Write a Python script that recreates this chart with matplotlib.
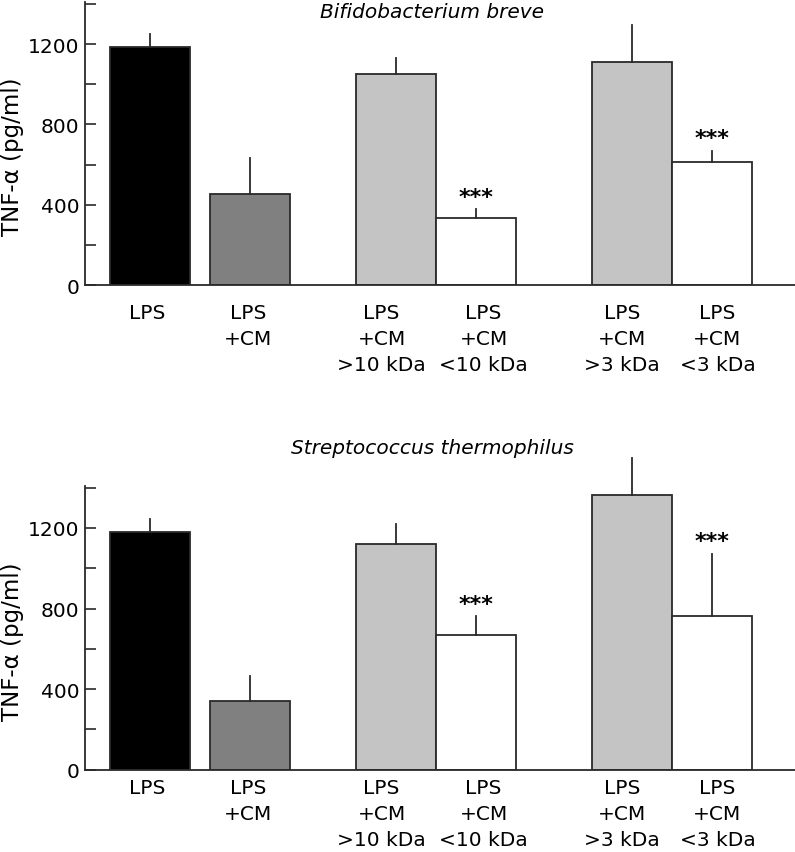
import matplotlib
matplotlib.use("Agg")
import matplotlib.pyplot as plt
from matplotlib.ticker import MultipleLocator

# data (pg/ml)
categories = ["LPS", "LPS\n+CM", "LPS\n+CM\n>10 kDa", "LPS\n+CM\n<10 kDa",
              "LPS\n+CM\n>3 kDa", "LPS\n+CM\n<3 kDa"]
breve_mean = [1184, 455, 1051, 334, 1109, 614]
breve_upper = [1250, 631, 1130, 377, 1296, 667]
thermo_mean = [1180, 340, 1121, 670, 1366, 761]
thermo_upper = [1247, 464, 1222, 761, 1550, 1071]
significant = [False, False, False, True, False, True]
titles = ["Bifidobacterium breve", "Streptococcus thermophilus"]

positions = [0, 1.25, 3.08, 4.08, 6.03, 7.03]
label_pos = [-0.035, 1.225, 2.9, 4.175, 5.91, 7.1]
bar_colors = ["#000000", "#808080", "#c4c4c4", "#ffffff", "#c4c4c4", "#ffffff"]
edge = "#2a2a2a"

plt.rcParams["font.family"] = "DejaVu Sans"

fig = plt.figure(figsize=(7.95, 8.53), dpi=100)
ax_top = fig.add_axes([85 / 795, 1 - 286 / 853, 710 / 795, 283 / 853])
ax_bot = fig.add_axes([85 / 795, 1 - 770.7 / 853, 710 / 795, 284 / 853])

panels = [(ax_top, breve_mean, breve_upper, titles[0], 13, 13),
          (ax_bot, thermo_mean, thermo_upper, titles[1], 448, 6)]

for ax, means, upper, title, title_y, xpad in panels:
    ax.bar(positions, means, width=1.0, color=bar_colors, edgecolor=edge,
           linewidth=1.3, zorder=2)
    for x, m, u, sig in zip(positions, means, upper, significant):
        ax.plot([x, x], [m, u], color=edge, linewidth=1.3, clip_on=False, zorder=3)
        if sig:
            ax.annotate("***", xy=(x, u), xytext=(0, 2), textcoords="offset points",
                        ha="center", va="bottom", fontsize=16, fontweight="bold")

    ax.set_xlim(-0.81, 8.07)
    ax.set_ylim(0, 1410)
    ax.yaxis.set_major_locator(MultipleLocator(400))
    ax.yaxis.set_minor_locator(MultipleLocator(200))
    ax.tick_params(axis="y", which="both", direction="in", length=8, width=1.2,
                   color=edge, labelsize=14.5, pad=4)
    ax.set_xticks(label_pos)
    ax.set_xticklabels(categories, fontsize=14.5, linespacing=1.45)
    ax.tick_params(axis="x", length=0, pad=xpad)
    for side in ["top", "right"]:
        ax.spines[side].set_visible(False)
    for side in ["left", "bottom"]:
        ax.spines[side].set_color(edge)
        ax.spines[side].set_linewidth(1.3)
    ax.set_ylabel("TNF-α (pg/ml)", fontsize=16.5)
    ax.yaxis.set_label_coords(-0.086, 0.455)
    fig.text(432 / 795, 1 - title_y / 853, title, style="italic", fontsize=14.5,
             ha="center", va="center")

fig.savefig("out.png", dpi=100)
